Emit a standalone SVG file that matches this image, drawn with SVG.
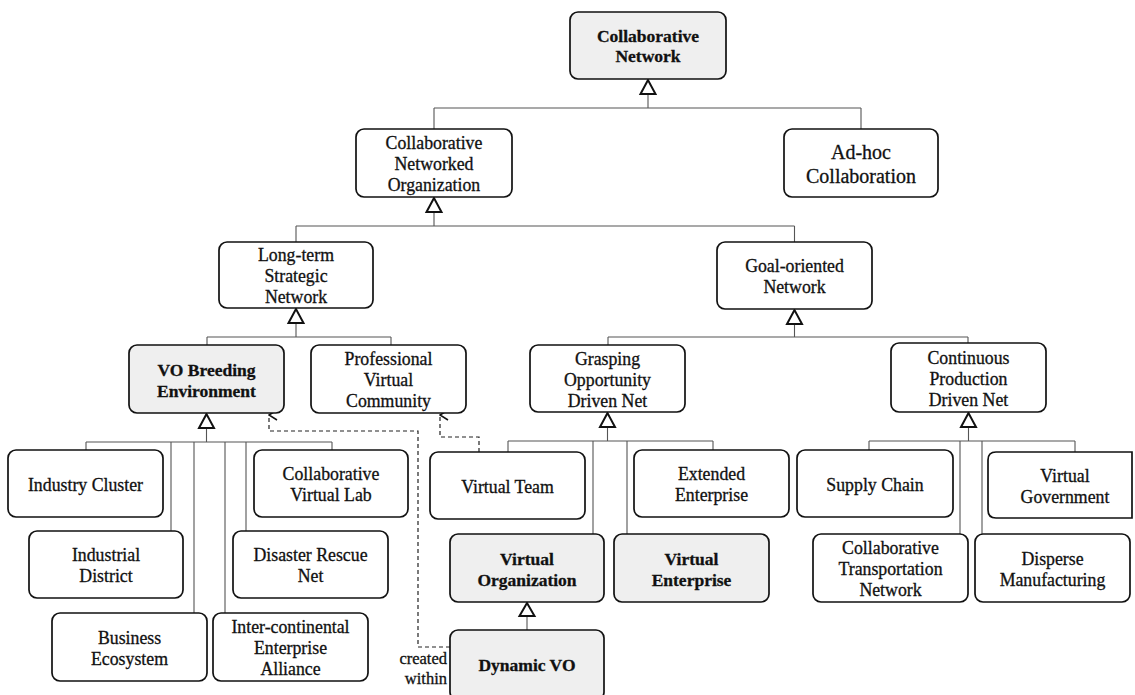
<svg xmlns="http://www.w3.org/2000/svg" width="1135" height="695" viewBox="0 0 1135 695">
  <defs>
    <style>
      .box { fill: #ffffff; stroke: #111111; stroke-width: 1.7; }
      .hl { fill: #efefef; }
      .t { font-family: "Liberation Serif", "Times New Roman", serif; font-size: 17.8px; text-anchor: middle; fill: #111111; stroke: #111111; stroke-width: 0.3; }
      .b { font-weight: bold; font-size: 17.5px; }
      .link { fill: none; stroke: #555555; stroke-width: 1.1; }
      .gen { fill: #ffffff; stroke: #111111; stroke-width: 2; stroke-linejoin: miter; }
      .dep { fill: none; stroke: #222222; stroke-width: 1.2; stroke-dasharray: 4 3; }
      .note { font-family: "Liberation Serif", "Times New Roman", serif; font-size: 16.5px; text-anchor: end; fill: #111111; stroke: #111111; stroke-width: 0.3; }
    </style>
    <marker id="open" viewBox="0 0 12 12" refX="6" refY="1" markerWidth="12" markerHeight="12" markerUnits="userSpaceOnUse" orient="auto-start-reverse">
      <path d="M1,9 L6,1 L11,9" fill="none" stroke="#111111" stroke-width="1.5"/>
    </marker>
  </defs>

  <!-- connectors: tree lines, generalisation triangles and dependencies -->
  <g id="connectors">
    <path class="link" d="M648,94 V108 M434,108 H861 M434,108 V129 M861,108 V129"/>
    <path class="link" d="M434,212 V226 M296,226 H794.5 M296,226 V242 M794.5,226 V242"/>
    <path class="link" d="M296,323 V337 M207,337 H391 M207,337 V345 M391,337 V345"/>
    <path class="link" d="M206.5,428 V442 M86,442 H332 M86,442 V450 M171,442 V531 M194,442 V613 M225,442 V613 M246,442 V531 M332,442 V450"/>
    <path class="link" d="M794.5,324 V337 M608,337 H968 M608,337 V345 M968,337 V343"/>
    <path class="link" d="M607.5,427 V441 M508,441 H713 M508,441 V452 M593,441 V534 M627,441 V534 M713,441 V450"/>
    <path class="link" d="M968.5,427 V441 M869,441 H1075 M869,441 V450 M960,441 V534 M982,441 V534 M1075,441 V452"/>
    <path class="link" d="M527,616 V630"/>

    <polygon class="gen" points="648,80 640.5,94 655.5,94"/>
    <polygon class="gen" points="434,198 426.5,212 441.5,212"/>
    <polygon class="gen" points="296,309 288.5,323 303.5,323"/>
    <polygon class="gen" points="206.5,414 199,428 214,428"/>
    <polygon class="gen" points="794.5,310 787,324 802,324"/>
    <polygon class="gen" points="607.5,413 600,427 615,427"/>
    <polygon class="gen" points="968.5,413 961,427 976,427"/>
    <polygon class="gen" points="527,603 519.5,616 534.5,616"/>

    <path class="dep" d="M450,647 H418 V431 H269 V415" marker-end="url(#open)"/>
    <path class="dep" d="M479,452 V437 H440 V415" marker-end="url(#open)"/>
    <text class="note" x="447" y="664">created</text>
    <text class="note" x="447" y="684">within</text>
  </g>

  <g id="collaborative-network">
    <rect class="box hl" x="570" y="12" width="156" height="67" rx="8"/>
    <text class="t b"><tspan x="648" y="42">Collaborative</tspan><tspan x="648" y="62">Network</tspan></text>
  </g>
  <g id="cno">
    <rect class="box" x="356" y="129" width="156" height="68" rx="8"/>
    <text class="t"><tspan x="434" y="149">Collaborative</tspan><tspan x="434" y="170">Networked</tspan><tspan x="434" y="191">Organization</tspan></text>
  </g>
  <g id="ad-hoc">
    <rect class="box" x="784" y="129" width="154" height="68" rx="8"/>
    <text class="t" style="font-size:20px"><tspan x="861" y="159">Ad-hoc</tspan><tspan x="861" y="183">Collaboration</tspan></text>
  </g>
  <g id="long-term">
    <rect class="box" x="219" y="242" width="154" height="66" rx="8"/>
    <text class="t"><tspan x="296" y="261">Long-term</tspan><tspan x="296" y="282">Strategic</tspan><tspan x="296" y="303">Network</tspan></text>
  </g>
  <g id="goal-oriented">
    <rect class="box" x="717" y="242" width="155" height="67" rx="8"/>
    <text class="t"><tspan x="794.5" y="272">Goal-oriented</tspan><tspan x="794.5" y="293">Network</tspan></text>
  </g>
  <g id="vbe">
    <rect class="box hl" x="129" y="345" width="155" height="68" rx="8"/>
    <text class="t b"><tspan x="206.5" y="375.5">VO Breeding</tspan><tspan x="206.5" y="396.5">Environment</tspan></text>
  </g>
  <g id="pvc">
    <rect class="box" x="311" y="345" width="155" height="68" rx="8"/>
    <text class="t"><tspan x="388.5" y="365">Professional</tspan><tspan x="388.5" y="386">Virtual</tspan><tspan x="388.5" y="407">Community</tspan></text>
  </g>
  <g id="grasping">
    <rect class="box" x="530" y="345" width="155" height="67" rx="8"/>
    <text class="t"><tspan x="607.5" y="364.5">Grasping</tspan><tspan x="607.5" y="385.5">Opportunity</tspan><tspan x="607.5" y="406.5">Driven Net</tspan></text>
  </g>
  <g id="continuous">
    <rect class="box" x="891" y="343" width="155" height="69" rx="8"/>
    <text class="t"><tspan x="968.5" y="363.5">Continuous</tspan><tspan x="968.5" y="384.5">Production</tspan><tspan x="968.5" y="405.5">Driven Net</tspan></text>
  </g>
  <g id="industry-cluster">
    <rect class="box" x="8" y="450" width="155" height="67" rx="8"/>
    <text class="t" x="85.5" y="490.5">Industry Cluster</text>
  </g>
  <g id="virtual-lab">
    <rect class="box" x="254" y="450" width="154" height="67" rx="8"/>
    <text class="t"><tspan x="331" y="480">Collaborative</tspan><tspan x="331" y="501">Virtual Lab</tspan></text>
  </g>
  <g id="industrial-district">
    <rect class="box" x="29" y="531" width="154" height="67" rx="8"/>
    <text class="t"><tspan x="106" y="561">Industrial</tspan><tspan x="106" y="582">District</tspan></text>
  </g>
  <g id="disaster-rescue">
    <rect class="box" x="233" y="531" width="155" height="67" rx="8"/>
    <text class="t"><tspan x="310.5" y="561">Disaster Rescue</tspan><tspan x="310.5" y="582">Net</tspan></text>
  </g>
  <g id="business-ecosystem">
    <rect class="box" x="52" y="613" width="155" height="68" rx="8"/>
    <text class="t"><tspan x="129.5" y="643.5">Business</tspan><tspan x="129.5" y="664.5">Ecosystem</tspan></text>
  </g>
  <g id="enterprise-alliance">
    <rect class="box" x="213" y="613" width="155" height="68" rx="8"/>
    <text class="t"><tspan x="290.5" y="633">Inter-continental</tspan><tspan x="290.5" y="654">Enterprise</tspan><tspan x="290.5" y="675">Alliance</tspan></text>
  </g>
  <g id="virtual-team">
    <rect class="box" x="430" y="452" width="155" height="67" rx="8"/>
    <text class="t" x="507.5" y="492.5">Virtual Team</text>
  </g>
  <g id="extended-enterprise">
    <rect class="box" x="634" y="450" width="155" height="67" rx="8"/>
    <text class="t"><tspan x="711.5" y="480">Extended</tspan><tspan x="711.5" y="501">Enterprise</tspan></text>
  </g>
  <g id="virtual-organization">
    <rect class="box hl" x="450" y="534" width="154" height="68" rx="8"/>
    <text class="t b"><tspan x="527" y="564.5">Virtual</tspan><tspan x="527" y="585.5">Organization</tspan></text>
  </g>
  <g id="virtual-enterprise">
    <rect class="box hl" x="614" y="534" width="155" height="68" rx="8"/>
    <text class="t b"><tspan x="691.5" y="564.5">Virtual</tspan><tspan x="691.5" y="585.5">Enterprise</tspan></text>
  </g>
  <g id="dynamic-vo">
    <rect class="box hl" x="450" y="630" width="154" height="70" rx="8"/>
    <text class="t b" x="527" y="671">Dynamic VO</text>
  </g>
  <g id="supply-chain">
    <rect class="box" x="797" y="450" width="156" height="67" rx="8"/>
    <text class="t" x="875" y="490.5">Supply Chain</text>
  </g>
  <g id="virtual-government">
    <path class="box" d="M996,452 H1132 V518 H996 Q988,518 988,510 V460 Q988,452 996,452 Z"/>
    <text class="t"><tspan x="1065" y="481.5">Virtual</tspan><tspan x="1065" y="502.5">Government</tspan></text>
  </g>
  <g id="transportation-network">
    <rect class="box" x="813" y="534" width="155" height="68" rx="8"/>
    <text class="t"><tspan x="890.5" y="554">Collaborative</tspan><tspan x="890.5" y="575">Transportation</tspan><tspan x="890.5" y="596">Network</tspan></text>
  </g>
  <g id="disperse-manufacturing">
    <rect class="box" x="975" y="534" width="155" height="68" rx="8"/>
    <text class="t"><tspan x="1052.5" y="564.5">Disperse</tspan><tspan x="1052.5" y="585.5">Manufacturing</tspan></text>
  </g>
</svg>
